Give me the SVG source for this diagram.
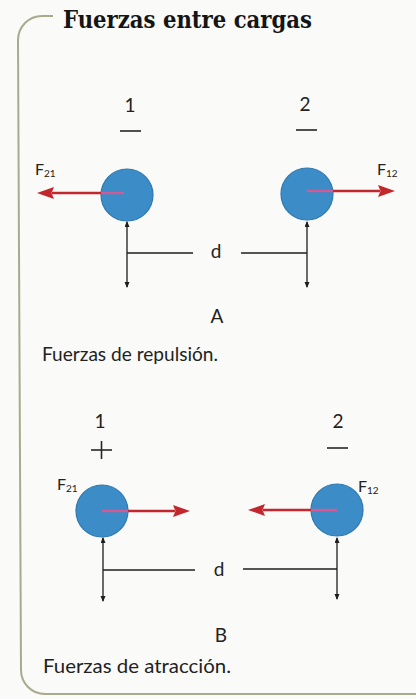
<svg xmlns="http://www.w3.org/2000/svg" width="416" height="699" viewBox="0 0 416 699">
<defs>
<style>
.txt{font-family:Lato,"Open Sans","Liberation Sans",sans-serif;fill:#222}
.lbl{font-size:19px;text-anchor:middle}
.cap{font-size:19px}
.fl{font-size:16px}
.sub{font-size:10px}
.title{font-family:"DejaVu Serif","Liberation Serif",serif;font-size:24px;font-weight:bold;fill:#151515}
.ball{fill:#3b8cc7;stroke:#2f78b0;stroke-width:1.2}
.force{stroke:#c1272d;stroke-width:2.6;fill:none;marker-end:url(#head)}
.inner{stroke:#d55a93;stroke-width:2.4}
.dim{stroke:#1e1e1e;stroke-width:1.3;fill:none}
.dimv{stroke:#1e1e1e;stroke-width:1.3;fill:none;marker-start:url(#tick);marker-end:url(#tick)}
.sign{stroke:#262626;stroke-width:1.6}
</style>
<marker id="head" markerUnits="userSpaceOnUse" markerWidth="20" markerHeight="14" refX="2" refY="6" orient="auto">
<path d="M0,0 L17,6 L0,12 L2.5,6 Z" fill="#c1272d"/>
</marker>
<marker id="tick" markerUnits="userSpaceOnUse" markerWidth="8" markerHeight="8" refX="5" refY="2.5" orient="auto-start-reverse">
<path d="M0,0 L6,2.5 L0,5 Z" fill="#1e1e1e"/>
</marker>
</defs>
<rect width="416" height="699" fill="#fafaf8"/>
<g id="frame">
<path d="M53,16 H42 A24,24 0 0 0 18,40 L21,670 A24,24 0 0 0 45,694 H416" fill="none" stroke="#a9aa8c" stroke-width="2"/>
</g>
<g id="title"><text class="title" x="63" y="28" textLength="249" lengthAdjust="spacingAndGlyphs">Fuerzas entre cargas</text></g>

<g id="charge-A1">
<text class="txt lbl" x="130" y="112">1</text>
<line class="sign" x1="120" y1="131" x2="141" y2="131"/>
<circle class="ball" cx="127" cy="195" r="26"/>
<text class="txt fl" x="35" y="175">F<tspan class="sub" dy="2">21</tspan></text>
</g>
<g id="charge-A2">
<text class="txt lbl" x="305" y="111">2</text>
<line class="sign" x1="296" y1="130" x2="317" y2="130"/>
<circle class="ball" cx="307" cy="194" r="26"/>
<text class="txt fl" x="377" y="175">F<tspan class="sub" dy="2">12</tspan></text>
</g>
<g id="caption-A">
<text class="txt lbl" x="217" y="323">A</text>
<text class="txt cap" x="42" y="361" textLength="176" lengthAdjust="spacingAndGlyphs">Fuerzas de repulsión.</text>
</g>

<g id="charge-B1">
<text class="txt lbl" x="100" y="428">1</text>
<line class="sign" x1="91" y1="450" x2="112" y2="450"/>
<line class="sign" x1="101.5" y1="441" x2="101.5" y2="459"/>
<circle class="ball" cx="102" cy="511" r="26"/>
<text class="txt fl" x="57" y="490">F<tspan class="sub" dy="2">21</tspan></text>
</g>
<g id="charge-B2">
<text class="txt lbl" x="338" y="428">2</text>
<line class="sign" x1="327" y1="448" x2="348" y2="448"/>
<circle class="ball" cx="337" cy="510" r="26"/>
<text class="txt fl" x="358" y="492">F<tspan class="sub" dy="2">12</tspan></text>
</g>
<g id="caption-B">
<text class="txt lbl" x="221" y="642">B</text>
<text class="txt cap" x="43" y="673" textLength="188" lengthAdjust="spacingAndGlyphs">Fuerzas de atracción.</text>
</g>

<g id="connectors">
<line class="inner" x1="124" y1="193" x2="101" y2="193"/>
<line class="force" x1="101" y1="193" x2="52" y2="193"/>
<line class="inner" x1="307" y1="191" x2="333" y2="191"/>
<line class="force" x1="333" y1="191" x2="380" y2="191"/>
<line class="dimv" x1="127" y1="222" x2="127" y2="287"/>
<line class="dim" x1="127" y1="253" x2="193" y2="253"/>
<line class="dim" x1="241" y1="253" x2="307" y2="253"/>
<line class="dimv" x1="307" y1="222" x2="307" y2="287"/>
<text class="txt lbl" x="216" y="258">d</text>

<line class="inner" x1="102" y1="511" x2="128" y2="511"/>
<line class="force" x1="128" y1="511" x2="175" y2="511"/>
<line class="inner" x1="337" y1="510" x2="311" y2="510"/>
<line class="force" x1="311" y1="510" x2="263" y2="510"/>
<line class="dimv" x1="103" y1="538" x2="103" y2="601"/>
<line class="dim" x1="103" y1="570" x2="195" y2="570"/>
<line class="dim" x1="243" y1="569" x2="337" y2="569"/>
<line class="dimv" x1="337" y1="538" x2="337" y2="599"/>
<text class="txt lbl" x="219" y="576">d</text>
</g>
</svg>
